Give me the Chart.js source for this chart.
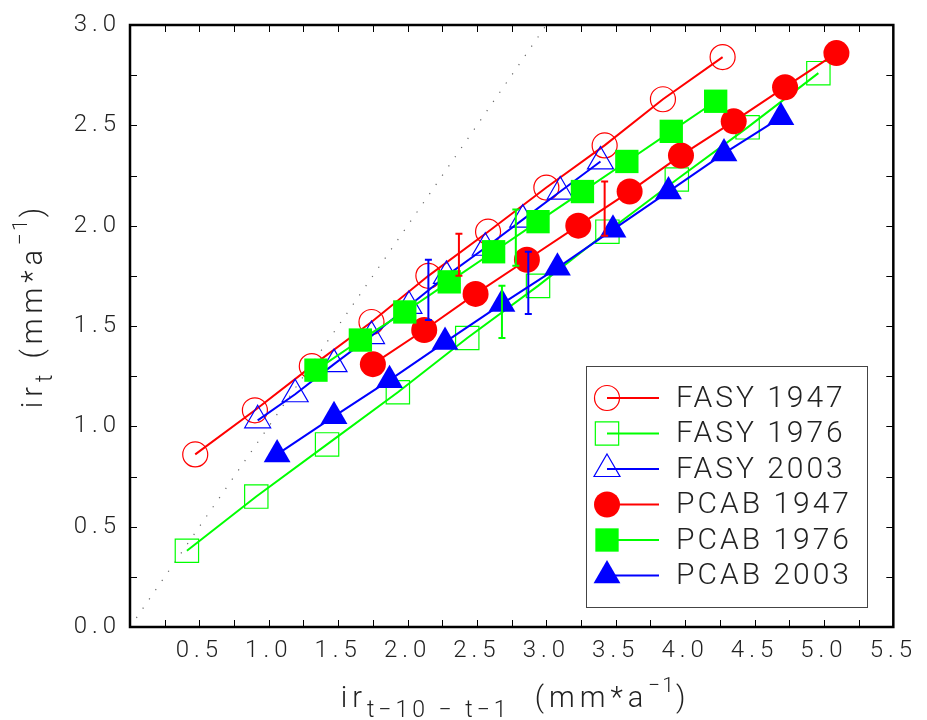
<!DOCTYPE html>
<html>
<head>
<meta charset="utf-8">
<script src="https://cdn.jsdelivr.net/npm/chart.js@4.4.0/dist/chart.umd.min.js"></script>
<style>
  html, body { margin: 0; background: #fff; }
  canvas { display: block; }
</style>
</head>
<body>
<canvas id="chart" width="927" height="720"></canvas>
<script>
// tick labels
const xTicks = [0.5, 1.0, 1.5, 2.0, 2.5, 3.0, 3.5, 4.0, 4.5, 5.0, 5.5];
const yTicks = [0.0, 0.5, 1.0, 1.5, 2.0, 2.5, 3.0];

const seriesNames = ["FASY 1947", "FASY 1976", "FASY 2003", "PCAB 1947", "PCAB 1976", "PCAB 2003"];

// ir(t-10..t-1) vs ir(t), one list pair per species/year
const fasy1947X = [0.47, 0.90, 1.31, 1.74, 2.15, 2.58, 3.00, 3.42, 3.84, 4.27];
const fasy1947Y = [0.86, 1.08, 1.30, 1.52, 1.75, 1.97, 2.19, 2.40, 2.63, 2.84];

const fasy1976X = [0.41, 0.91, 1.42, 1.93, 2.43, 2.94, 3.44, 3.94, 4.45, 4.96];
const fasy1976Y = [0.38, 0.65, 0.91, 1.17, 1.44, 1.70, 1.97, 2.23, 2.49, 2.76];

const fasy2003X = [0.92, 1.19, 1.47, 1.74, 2.01, 2.28, 2.56, 2.83, 3.10, 3.39];
const fasy2003Y = [1.03, 1.16, 1.31, 1.45, 1.60, 1.75, 1.89, 2.03, 2.17, 2.32];

const pcab1947X = [1.75, 2.12, 2.49, 2.86, 3.23, 3.60, 3.97, 4.35, 4.72, 5.09];
const pcab1947Y = [1.31, 1.48, 1.66, 1.83, 2.00, 2.17, 2.35, 2.52, 2.69, 2.86];

const pcab1976X = [1.34, 1.66, 1.98, 2.30, 2.62, 2.94, 3.26, 3.58, 3.90, 4.22];
const pcab1976Y = [1.28, 1.43, 1.57, 1.72, 1.87, 2.02, 2.17, 2.32, 2.47, 2.62];

const pcab2003X = [1.06, 1.47, 1.87, 2.27, 2.68, 3.08, 3.48, 3.88, 4.28, 4.69];
const pcab2003Y = [0.86, 1.05, 1.23, 1.42, 1.61, 1.79, 1.98, 2.17, 2.36, 2.54];

// one +-sd bar per series (same order as seriesNames)
const errX  = [2.37, 2.68, 2.15, 3.42, 2.78, 2.87];
const errLo = [1.75, 1.44, 1.53, 1.95, 1.80, 1.56];
const errHi = [1.96, 1.70, 1.83, 2.22, 2.08, 1.87];

// 1:1 reference line
const oneToOneX = [0, 3];
const oneToOneY = [0, 3];

const seriesX = [fasy1947X, fasy1976X, fasy2003X, pcab1947X, pcab1976X, pcab2003X];
const seriesY = [fasy1947Y, fasy1976Y, fasy2003Y, pcab1947Y, pcab1976Y, pcab2003Y];

const RED = "#ff0000", GREEN = "#00ff00", BLUE = "#0000ff";
const styles = [
  { color: RED,   shape: "circle",   r: 12.5, open: true },
  { color: GREEN, shape: "rect",     r: 16.5, open: true },
  { color: BLUE,  shape: "triangle", r: 15,   open: true },
  { color: RED,   shape: "circle",   r: 13,   open: false },
  { color: GREEN, shape: "rect",     r: 16.5, open: false },
  { color: BLUE,  shape: "triangle", r: 15.5, open: false },
];

const FONT = 'Roboto, "Liberation Sans", sans-serif';
const INK = "#222";

const toPoints = (xs, ys) => xs.map((x, i) => ({ x: x, y: ys[i] }));

const datasets = seriesNames.map((name, i) => {
  const s = styles[i];
  return {
    label: name,
    data: toPoints(seriesX[i], seriesY[i]),
    showLine: true,
    borderColor: s.color,
    borderWidth: 2,
    pointStyle: s.shape,
    pointRadius: s.r,
    pointBorderColor: s.color,
    pointBorderWidth: s.open ? 1.2 : 0,
    pointBackgroundColor: s.open ? "rgba(0,0,0,0)" : s.color,
    order: -i,
  };
});

datasets.push({
  label: "1:1",
  data: toPoints(oneToOneX, oneToOneY),
  showLine: true,
  borderColor: "#666",
  borderWidth: 1.2,
  borderDash: [1.2, 10],
  pointRadius: 0,
  order: 10,
});

// draw text made of pieces (sub/superscripts)
function drawRich(ctx, parts, cx, cy, rotate) {
  ctx.save();
  const widths = parts.map(p => {
    ctx.font = "300 " + p.size + "px " + FONT;
    ctx.letterSpacing = (p.ls || 0) + "px";
    return ctx.measureText(p.t).width;
  });
  const total = widths.reduce((a, b) => a + b, 0);
  ctx.translate(cx, cy);
  if (rotate) ctx.rotate(-Math.PI / 2);
  ctx.fillStyle = INK;
  ctx.textBaseline = "alphabetic";
  ctx.textAlign = "left";
  let x = -total / 2;
  parts.forEach((p, i) => {
    ctx.font = "300 " + p.size + "px " + FONT;
    ctx.letterSpacing = (p.ls || 0) + "px";
    ctx.fillText(p.t, x, p.dy || 0);
    x += widths[i];
  });
  ctx.restore();
}

const tickSpacing = {
  id: "tickSpacing",
  beforeLayout(chart) { chart.ctx.letterSpacing = "5px"; },
  beforeDraw(chart) { chart.ctx.letterSpacing = "5px"; },
};

const frame = {
  id: "frame",
  afterDatasetsDraw(chart) {
    const ctx = chart.ctx;
    const xs = chart.scales.x, ys = chart.scales.y;
    // error bars
    ctx.save();
    ctx.lineWidth = 2;
    errX.forEach((x, i) => {
      const px = xs.getPixelForValue(x);
      const lo = ys.getPixelForValue(errLo[i]);
      const hi = ys.getPixelForValue(errHi[i]);
      ctx.strokeStyle = styles[i].color;
      ctx.beginPath();
      ctx.moveTo(px, lo); ctx.lineTo(px, hi);
      ctx.moveTo(px - 3.5, lo); ctx.lineTo(px + 3.5, lo);
      ctx.moveTo(px - 3.5, hi); ctx.lineTo(px + 3.5, hi);
      ctx.stroke();
    });
    ctx.restore();
  },
  afterDraw(chart) {
    const ctx = chart.ctx;
    const a = chart.chartArea;
    const xs = chart.scales.x, ys = chart.scales.y;
    ctx.save();
    ctx.letterSpacing = "0px";

    // inward ticks on all four sides
    ctx.strokeStyle = "#000";
    ctx.lineWidth = 1;
    ctx.beginPath();
    for (let v = 0.25; v < xs.max; v += 0.25) {
      const px = Math.round(xs.getPixelForValue(v)) + 0.5;
      ctx.moveTo(px, a.bottom); ctx.lineTo(px, a.bottom - 7);
      ctx.moveTo(px, a.top); ctx.lineTo(px, a.top + 7);
    }
    for (let v = 0.25; v < ys.max; v += 0.25) {
      const py = Math.round(ys.getPixelForValue(v)) + 0.5;
      ctx.moveTo(a.left, py); ctx.lineTo(a.left + 7, py);
      ctx.moveTo(a.right, py); ctx.lineTo(a.right - 7, py);
    }
    ctx.stroke();

    ctx.lineWidth = 2.5;
    ctx.strokeRect(a.left, a.top, a.right - a.left, a.bottom - a.top);

    // legend
    const lx = 586.5, ly = 366.5, lw = 281, lh = 241;
    ctx.fillStyle = "#fff";
    ctx.fillRect(lx, ly, lw, lh);
    ctx.strokeStyle = "#444";
    ctx.lineWidth = 1;
    ctx.strokeRect(lx, ly, lw, lh);
    seriesNames.forEach((name, i) => {
      const s = styles[i];
      const y = 398 + i * 35.5;
      ctx.strokeStyle = s.color;
      ctx.lineWidth = 2;
      ctx.beginPath();
      ctx.moveTo(607, y); ctx.lineTo(659, y);
      ctx.stroke();
      ctx.fillStyle = s.open ? "rgba(0,0,0,0)" : s.color;
      ctx.lineWidth = s.open ? 1.2 : 0;
      Chart.helpers.drawPoint(ctx, {
        pointStyle: s.shape, radius: s.r, rotation: 0, borderWidth: s.open ? 1.2 : 0,
      }, 607, y);
      ctx.fillStyle = INK;
      ctx.font = "300 30px " + FONT;
      ctx.letterSpacing = "3px";
      ctx.textBaseline = "middle";
      ctx.fillText(name, 676, y + 1);
    });
    ctx.restore();

    // axis titles
    drawRich(ctx, [
      { t: "ir", size: 29, ls: 5 },
      { t: "t\u221210 \u2212 t\u22121", size: 23, ls: 4, dy: 10 },
      { t: "  (mm*a", size: 29, ls: 5 },
      { t: "\u22121", size: 21, ls: 2, dy: -15 },
      { t: ")", size: 29, ls: 0 },
    ], 513, 707, false);

    drawRich(ctx, [
      { t: "ir", size: 29, ls: 5 },
      { t: "t", size: 23, ls: 4, dy: 10 },
      { t: " (mm*a", size: 29, ls: 5 },
      { t: "\u22121", size: 21, ls: 2, dy: -15 },
      { t: ")", size: 29, ls: 0 },
    ], 42, 308, true);
  },
};

new Chart(document.getElementById("chart"), {
  type: "scatter",
  data: { datasets: datasets },
  options: {
    responsive: false,
    animation: false,
    clip: false,
    layout: { padding: { top: 25, right: 25, left: 0, bottom: 0 } },
    plugins: { legend: { display: false }, tooltip: { enabled: false } },
    elements: { line: { tension: 0 } },
    scales: {
      x: {
        type: "linear",
        min: 0,
        max: 5.5,
        afterBuildTicks: s => { s.ticks = xTicks.map(v => ({ value: v })); },
        afterFit: s => { s.height = 93; },
        grid: { display: false, drawTicks: false },
        border: { display: false },
        ticks: {
          padding: 10,
          color: INK,
          font: { family: FONT, size: 24, weight: 300 },
          maxRotation: 0,
          callback: v => v.toFixed(1),
        },
      },
      y: {
        type: "linear",
        min: 0,
        max: 3,
        afterBuildTicks: s => { s.ticks = yTicks.map(v => ({ value: v })); },
        afterFit: s => { s.width = 130; },
        grid: { display: false, drawTicks: false },
        border: { display: false },
        ticks: {
          padding: 9,
          color: INK,
          font: { family: FONT, size: 24, weight: 300 },
          callback: v => v.toFixed(1),
        },
      },
    },
  },
  plugins: [tickSpacing, frame],
});
</script>
</body>
</html>
